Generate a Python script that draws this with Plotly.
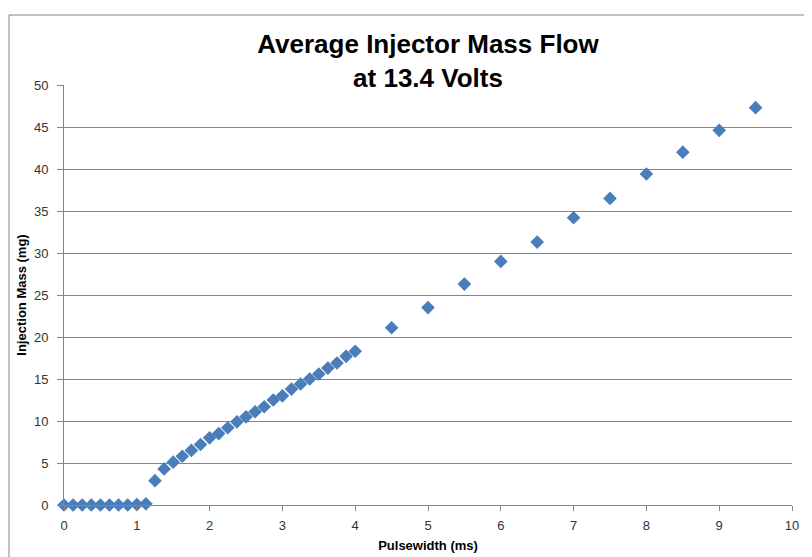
import plotly.graph_objects as go

pulsewidth_ms = [0, 0.125, 0.25, 0.375, 0.5, 0.625, 0.75, 0.875, 1.0, 1.125,
                 1.25, 1.375, 1.5, 1.625, 1.75, 1.875, 2.0, 2.125, 2.25, 2.375,
                 2.5, 2.625, 2.75, 2.875, 3.0, 3.125, 3.25, 3.375, 3.5, 3.625,
                 3.75, 3.875, 4.0,
                 4.5, 5.0, 5.5, 6.0, 6.5, 7.0, 7.5, 8.0, 8.5, 9.0, 9.5]
injection_mass_mg = [0, 0, 0, 0, 0, 0, 0, 0, 0.05, 0.15,
                     2.9, 4.3, 5.1, 5.8, 6.5, 7.2, 8.0, 8.5, 9.2, 9.9,
                     10.5, 11.1, 11.7, 12.5, 13.0, 13.8, 14.4, 15.0, 15.6, 16.3,
                     16.9, 17.7, 18.3,
                     21.1, 23.5, 26.3, 29.0, 31.3, 34.2, 36.5, 39.4, 42.0, 44.6, 47.3]

x_ticks = list(range(0, 11))
y_ticks = list(range(0, 51, 5))

title_line1 = "Average Injector Mass Flow"
title_line2 = "at 13.4 Volts"
x_title = "Pulsewidth (ms)"
y_title = "Injection Mass (mg)"

# page body adds an 8px offset; figure is sized to fill the rest of the window
W, H = 804, 549

fig = go.Figure()
fig.add_trace(go.Scatter(
    x=pulsewidth_ms, y=injection_mass_mg, mode="markers",
    marker=dict(symbol="diamond", size=10.5, color="#4A7EBB", line=dict(width=0)),
    showlegend=False, cliponaxis=False,
))

axis_font = dict(family="Liberation Sans, Arial, sans-serif", size=13, color="#333333")
fig.update_layout(
    width=W, height=H,
    margin=dict(l=56, r=20, t=77, b=52, autoexpand=False),
    paper_bgcolor="white", plot_bgcolor="white",
    title=dict(
        text=title_line1 + "<br>" + title_line2,
        x=0.5, xanchor="center", xref="paper",
        y=1 - 45 / H, yanchor="middle", yref="container",
        font=dict(family="Liberation Sans, Arial, sans-serif", size=26, color="black", weight="bold"),
    ),
    xaxis=dict(
        range=[0, 10], tickvals=x_ticks, ticktext=[str(v) for v in x_ticks],
        showgrid=False, zeroline=False,
        showline=True, linecolor="#868686", linewidth=1,
        ticks="outside", ticklen=5, tickcolor="#868686",
        tickfont=axis_font, ticklabelstandoff=3,
        title=dict(text="<b>" + x_title + "</b>", standoff=9,
                   font=dict(family="Liberation Sans, Arial, sans-serif", size=13, color="black")),
    ),
    yaxis=dict(
        range=[0, 50], tickvals=y_ticks, ticktext=[str(v) for v in y_ticks],
        showgrid=True, gridcolor="#868686", gridwidth=1, zeroline=False,
        showline=True, linecolor="#868686", linewidth=1,
        ticks="outside", ticklen=6, tickcolor="#868686",
        tickfont=axis_font, ticklabelstandoff=6,
        title=dict(text="<b>" + y_title + "</b>", standoff=4,
                   font=dict(family="Liberation Sans, Arial, sans-serif", size=13, color="black")),
    ),
    shapes=[dict(type="rect", xref="paper", yref="paper",
                 x0=(9 - 64) / 728, x1=(807 - 64) / 728,
                 y0=(505 - 600) / 420, y1=(505 - 15) / 420,
                 line=dict(color="#868686", width=1), fillcolor="rgba(0,0,0,0)", layer="below")],
)

fig.write_html("out.html")
